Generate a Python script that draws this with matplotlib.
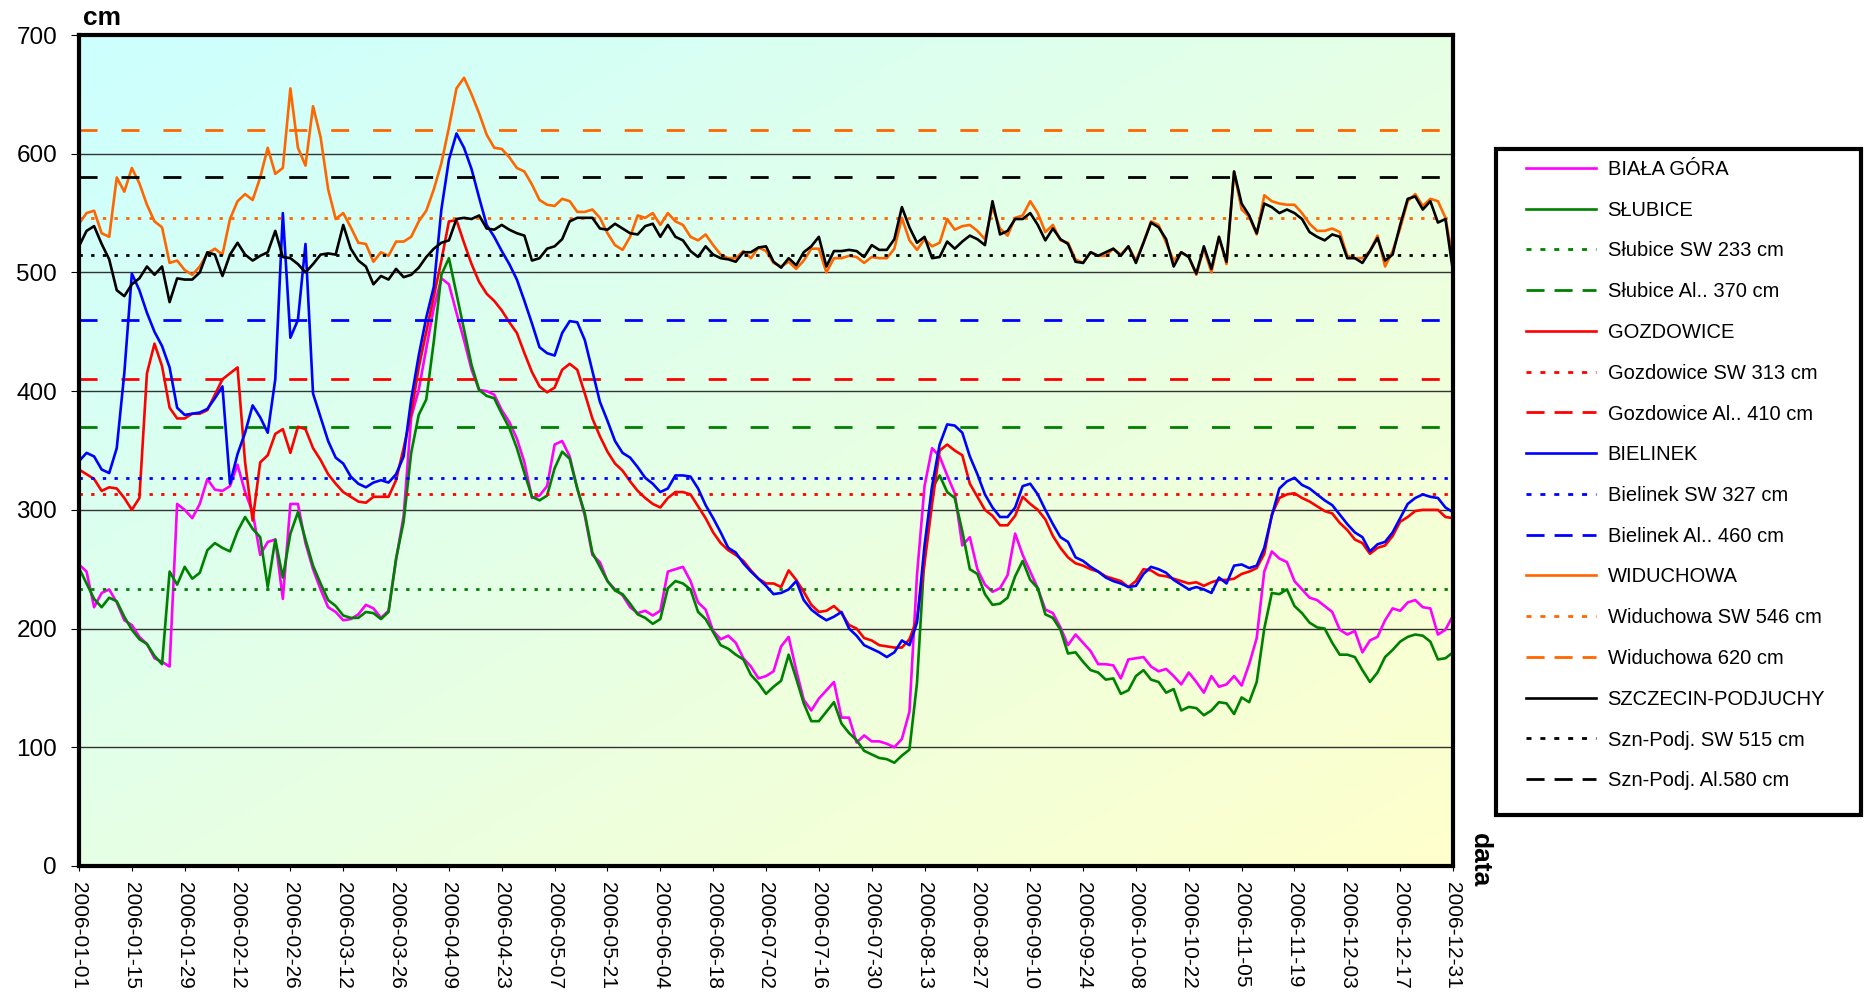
import numpy as np
import pandas as pd
import matplotlib
matplotlib.use('Agg')
import matplotlib.pyplot as plt
from matplotlib.patches import Rectangle

plt.rcParams['font.family'] = ['Liberation Sans', 'DejaVu Sans']

# dates: every second day of 2006, ticks every 14 days
days = pd.date_range('2006-01-01', '2006-12-31', freq='2D')
tick_days = pd.date_range('2006-01-01', '2006-12-31', freq='14D')

# water levels in cm
biala_gora = [254,248,218,230,233,222,207,203,193,187,
              175,172,168,305,300,293,305,326,317,316,
              320,338,315,298,262,273,275,225,305,305,
              272,250,233,218,214,207,208,212,220,217,
              209,215,258,295,378,401,436,470,495,490,
              466,443,418,401,400,397,384,374,360,340,
              310,312,320,355,358,345,318,295,262,256,
              240,233,228,218,213,215,211,215,248,250,
              252,240,222,216,198,191,194,188,175,168,
              158,160,164,185,193,165,140,131,141,148,
              155,125,125,104,110,105,105,103,100,107,
              130,245,320,352,345,329,314,270,277,250,
              237,231,234,245,280,262,248,234,216,213,
              201,186,195,188,181,170,170,169,158,174,
              175,176,168,164,166,160,153,163,155,146,
              160,151,153,160,152,170,192,248,265,259,
              256,240,233,226,224,219,214,199,195,198,
              180,190,193,207,217,215,222,224,218,217,
              195,199,211]

slubice = [251,238,225,218,226,223,210,199,191,187,
           177,170,248,237,252,242,247,266,272,268,
           265,282,294,284,277,235,275,243,280,298,
           275,253,238,224,219,211,209,209,214,213,
           208,214,259,290,348,380,393,442,498,512,
           482,452,422,401,396,394,381,369,352,331,
           311,308,312,335,349,343,318,297,264,252,
           240,232,229,221,212,209,204,208,234,240,
           238,233,214,208,197,186,183,178,174,161,
           154,145,151,156,178,158,137,122,122,130,
           138,120,112,106,97,94,91,90,87,93,
           98,154,262,318,329,315,310,282,250,246,
           229,220,221,226,244,257,241,234,212,209,
           199,179,180,172,165,163,157,158,145,148,
           160,165,157,155,146,149,131,134,133,127,
           131,138,137,128,142,138,155,200,230,229,
           233,219,213,205,201,200,188,178,178,176,
           165,155,163,176,182,189,193,195,194,189,
           174,175,180]

gozdowice = [334,330,326,316,319,318,310,300,310,415,
             440,421,386,377,377,381,381,384,397,410,
             415,420,340,291,340,346,364,368,348,370,
             368,352,342,330,322,315,311,307,306,311,
             311,311,325,352,381,420,450,480,510,543,
             544,525,507,492,482,476,468,458,449,432,
             416,404,399,403,418,423,418,398,377,362,
             349,339,333,324,316,310,305,302,310,315,
             315,313,303,293,281,272,266,262,257,249,
             242,238,238,235,249,241,231,220,214,215,
             219,213,203,200,192,190,186,185,184,184,
             191,208,255,305,350,355,350,346,322,311,
             300,295,287,287,295,311,305,300,292,278,
             268,260,255,253,250,248,244,242,240,235,
             240,250,249,245,244,242,240,238,239,236,
             239,241,241,242,246,248,251,263,296,310,
             313,314,310,307,303,299,297,289,283,275,
             272,263,268,270,278,290,294,299,300,300,
             300,294,293]

bielinek = [341,348,345,334,331,352,415,499,485,466,
            450,438,420,386,380,381,382,385,394,404,
            322,347,365,388,378,365,410,550,445,460,
            524,398,378,358,344,339,328,322,319,323,
            325,323,330,345,393,430,462,488,553,595,
            617,605,587,563,540,530,518,507,494,476,
            457,437,432,430,449,459,458,443,417,391,
            375,358,348,344,336,327,322,315,318,329,
            329,328,318,304,293,281,268,264,255,248,
            242,236,229,230,233,240,224,216,211,207,
            210,214,200,194,186,183,180,176,180,190,
            186,205,270,320,355,372,371,365,345,330,
            313,302,294,294,302,320,322,313,300,288,
            277,273,260,257,252,248,243,240,238,235,
            236,246,252,250,247,241,237,233,235,233,
            230,243,238,253,254,251,253,268,295,318,
            324,327,321,318,313,308,304,296,288,281,
            277,265,271,273,281,293,305,310,313,311,
            310,302,298]

widuchowa = [541,550,552,533,530,580,568,588,575,557,
             543,538,508,510,502,498,505,516,520,515,
             545,560,566,561,580,605,583,588,655,605,
             590,640,614,570,545,550,538,525,524,509,
             517,514,526,526,530,543,552,570,592,622,
             655,664,650,634,616,605,604,597,588,585,
             574,561,557,556,562,560,551,551,553,546,
             533,523,519,530,548,546,550,540,550,543,
             540,530,527,532,523,515,512,512,518,512,
             521,518,508,505,509,503,510,520,520,500,
             512,512,514,513,508,513,512,512,520,546,
             527,519,528,522,525,545,536,539,540,535,
             528,555,537,531,546,548,560,550,534,540,
             527,525,511,508,517,514,514,520,515,522,
             510,525,543,540,525,510,517,513,498,520,
             500,530,507,585,553,547,532,565,560,558,
             557,557,550,541,535,535,537,534,514,512,
             512,518,531,505,518,537,560,566,556,562,
             560,546,511]

szczecin = [522,535,539,524,511,485,480,490,495,505,
            498,505,475,495,494,494,500,517,515,497,
            515,525,515,510,514,517,535,513,512,507,
            500,507,515,516,515,540,520,510,505,490,
            497,494,503,496,498,504,513,520,525,527,
            545,546,545,548,537,536,540,536,533,531,
            510,512,520,522,528,543,546,546,546,537,
            536,541,537,533,532,539,541,530,540,530,
            527,518,513,522,515,512,511,509,517,517,
            521,522,509,504,512,506,517,522,530,505,
            518,518,519,518,513,523,519,519,528,555,
            538,525,530,512,513,526,520,526,531,528,
            523,560,532,535,545,545,550,540,527,537,
            528,524,509,508,517,514,517,520,514,522,
            508,525,542,538,528,505,517,513,499,522,
            503,530,509,585,558,548,533,558,555,550,
            553,550,545,534,530,527,532,530,512,512,
            508,518,529,510,515,540,562,564,553,560,
            542,545,501]

# warning (SW) and alarm (Al) levels
stations = ['BIAŁA GÓRA', 'SŁUBICE', 'GOZDOWICE', 'BIELINEK', 'WIDUCHOWA', 'SZCZECIN-PODJUCHY']
colors = ['#FF00FF', '#008000', '#FF0000', '#0000FF', '#FF6600', '#000000']
sw_levels = [None, 233, 313, 327, 546, 515]
al_levels = [None, 370, 410, 460, 620, 580]
sw_labels = [None, 'Słubice SW 233 cm', 'Gozdowice SW 313 cm', 'Bielinek SW 327 cm',
             'Widuchowa SW 546 cm', 'Szn-Podj. SW 515 cm']
al_labels = [None, 'Słubice Al.. 370 cm', 'Gozdowice Al.. 410 cm', 'Bielinek Al.. 460 cm',
             'Widuchowa 620 cm', 'Szn-Podj. Al.580 cm']
values = [biala_gora, slubice, gozdowice, bielinek, widuchowa, szczecin]

W, H = 1865, 992
fig = plt.figure(figsize=(W / 100, H / 100), dpi=100)
ax = fig.add_axes([79 / W, 1 - 866 / H, (1453 - 79) / W, (866 - 35) / H])

# gradient background cyan -> light yellow
n = 200
xx, yy = np.meshgrid(np.linspace(0, 1, n), np.linspace(0, 1, n))
t = (xx + yy) / 2
c0 = np.array([0.80, 1.0, 1.0])
c1 = np.array([1.0, 1.0, 0.80])
grad = c0[None, None, :] * (1 - t[..., None]) + c1[None, None, :] * t[..., None]
ax.imshow(grad, extent=[0, 1, 0, 1], transform=ax.transAxes, aspect='auto', zorder=-1)

dotted = (0, (1.2, 3.0))
dashed = (0, (6.5, 8.6))

for name, vals, col, sw, al, swl, all_ in zip(stations, values, colors, sw_levels, al_levels, sw_labels, al_labels):
    ax.plot(days, vals, color=col, lw=1.9, label=name)
    if sw is not None:
        ax.axhline(sw, color=col, lw=2.0, ls=dotted, label=swl)
        ax.axhline(al, color=col, lw=2.0, ls=dashed, label=all_)

ax.set_xlim(days[0], days[-1])
ax.set_ylim(0, 700)
ax.set_yticks(range(0, 701, 100))
ax.tick_params(axis='y', labelsize=17.5, length=5.8, pad=10, direction='out')
ax.set_xticks(tick_days)
ax.set_xticklabels([d.strftime('%Y-%m-%d') for d in tick_days], rotation=-90, va='top', ha='center')
ax.tick_params(axis='x', labelsize=15, length=3.6, pad=8, direction='out')
ax.yaxis.grid(True, color='#333333', lw=1.0)
ax.set_axisbelow(True)
for s in ax.spines.values():
    s.set_linewidth(3)
    s.set_color('black')

fig.text(83 / W, 1 - 25 / H, 'cm', fontsize=19, fontweight='bold', ha='left', va='baseline')
fig.text(1480 / W, 1 - 833 / H, 'data', fontsize=19, fontweight='bold', rotation=-90,
         ha='center', va='top')

# legend box
fig.patches.append(Rectangle((1496 / W, 1 - 815 / H), 365 / W, 666 / H, transform=fig.transFigure,
                             facecolor='white', edgecolor='black', lw=3, zorder=0))
leg = fig.legend(loc='upper left', bbox_to_anchor=(1526 / W, 1 - 160 / H), frameon=False,
                 fontsize=14.5, handlelength=3.5, handletextpad=0.55, labelspacing=1.08,
                 borderpad=0, borderaxespad=0)
level_styles = {}
for swl, all_ in zip(sw_labels[1:], al_labels[1:]):
    level_styles[swl] = (1.8, 3.2)
    level_styles[all_] = (6.5, 3.6)
for line, txt in zip(leg.get_lines(), leg.get_texts()):
    if txt.get_text() in level_styles:
        line.set_dashes(level_styles[txt.get_text()])

plt.savefig('out.png', dpi=100)
